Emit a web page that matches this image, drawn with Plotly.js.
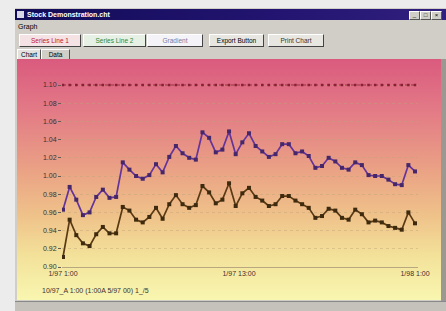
<!DOCTYPE html>
<html><head><meta charset="utf-8">
<script src="https://cdn.plot.ly/plotly-3.0.1.min.js"></script>
<style>
body{margin:0;width:446px;height:311px;background:#ececec;overflow:hidden;font-family:"Liberation Sans",Arial,sans-serif;}
#win{position:absolute;left:15px;top:8px;width:431px;height:303px;background:#d0cec6;}
#title{position:absolute;left:15px;top:9px;width:431px;height:11px;background:linear-gradient(90deg,#120c58,#221470 60%,#32207e);color:#fff;font-size:7px;font-weight:bold;line-height:11px;text-indent:12px;}
#ico{position:absolute;left:2px;top:2px;width:7px;height:7px;background:#d8d8e8;}
.wb{position:absolute;top:11px;width:9px;height:7px;background:#d0cec6;border:1px solid #fff;border-right-color:#555;border-bottom-color:#555;font-size:6px;line-height:7px;text-align:center;color:#000;}
#menu{position:absolute;left:18px;top:23px;font-size:7px;color:#000;}
.btn{position:absolute;top:34px;height:11px;background:#e8e6e0;border:1px solid #fff;border-right-color:#444;border-bottom-color:#444;font-size:6.5px;line-height:11px;text-align:center;}
.tab{position:absolute;top:49px;height:9px;font-size:6.5px;line-height:9px;text-align:center;background:#d0cec6;border:1px solid #fff;border-bottom:none;border-right-color:#555;}
#panel{position:absolute;left:17px;top:59px;width:424px;height:241px;background:linear-gradient(180deg,#da5a7e 0%,#e27886 20%,#eaa085 45%,#efc28a 65%,#f3e29a 82%,#f8f6b0 100%);}
#edge{position:absolute;left:441px;top:59px;width:5px;height:244px;background:#9a9890;}
#status{position:absolute;left:15px;top:301px;width:431px;height:10px;background:#c4c2ba;border-top:1px solid #888;}
#chart{position:absolute;left:17px;top:59px;width:424px;height:241px;}
</style></head>
<body>
<div id="win"></div>
<div id="title"><div id="ico"></div>Stock Demonstration.cht</div>
<div class="wb" style="left:409px">_</div>
<div class="wb" style="left:420px">□</div>
<div class="wb" style="left:431px">×</div>
<div id="menu">Graph</div>
<div class="btn" style="left:19px;width:60px;color:#c02030;background:#f4e2e4">Series Line 1</div>
<div class="btn" style="left:83px;width:61px;color:#2a8a3a;background:#e6f0e4">Series Line 2</div>
<div class="btn" style="left:147px;width:54px;color:#7a7aa0;background:#f4f4f8">Gradient</div>
<div class="btn" style="left:209px;width:53px;color:#000">Export Button</div>
<div class="btn" style="left:268px;width:54px;color:#333">Print Chart</div>
<div class="tab" style="left:17px;width:22px;background:#e4e2dc">Chart</div>
<div class="tab" style="left:41px;width:27px">Data</div>
<div id="panel"></div>
<div id="edge"></div>
<div id="status"></div>
<div id="chart"></div>
<script>
// Series values
const seriesLine1 = [0.963,0.988,0.974,0.957,0.960,0.977,0.985,0.976,0.977,1.015,
 1.007,1.000,0.997,1.001,1.013,1.004,1.021,1.033,1.025,1.020,
 1.018,1.048,1.042,1.026,1.029,1.049,1.024,1.037,1.047,1.033,
 1.027,1.021,1.024,1.035,1.035,1.025,1.027,1.022,1.009,1.011,
 1.020,1.016,1.009,1.007,1.015,1.012,1.001,1.000,1.000,0.996,
 0.991,0.990,1.012,1.005];
const seriesLine2 = [0.911,0.952,0.935,0.926,0.923,0.936,0.944,0.937,0.937,0.966,
 0.962,0.952,0.949,0.955,0.965,0.953,0.969,0.979,0.969,0.965,
 0.968,0.989,0.982,0.970,0.974,0.992,0.967,0.981,0.987,0.977,
 0.973,0.967,0.969,0.978,0.978,0.973,0.969,0.965,0.954,0.956,
 0.964,0.962,0.954,0.952,0.963,0.958,0.949,0.951,0.949,0.945,
 0.943,0.941,0.960,0.948];
const limitLevel = 1.10;
const yTicks = [0.90,0.92,0.94,0.96,0.98,1.00,1.02,1.04,1.06,1.08,1.10];
const xTickPositions = [0, 26.5, 53];
const xTickLabels = ["1/97 1:00", "1/97 13:00", "1/98 1:00"];
const footnote = "10/97_A 1:00 (1:00A 5/97 00) 1_/5";

const xs = seriesLine1.map((_, i) => i);
const limitSeries = xs.map(() => limitLevel);

const traces = [
 {x: xs, y: limitSeries, mode: 'lines+markers', line: {color: '#9a2a40', width: 1.2, dash: 'dot'},
  marker: {color: '#8a2038', size: 2.5, symbol: 'square'}, hoverinfo: 'skip'},
 {x: xs, y: seriesLine1, mode: 'lines+markers', line: {color: '#64349a', width: 1.7},
  marker: {color: '#46286a', size: 4, symbol: 'square'}},
 {x: xs, y: seriesLine2, mode: 'lines+markers', line: {color: '#5a3a14', width: 1.7},
  marker: {color: '#3e2a0e', size: 4, symbol: 'square'}}
];

const layout = {
 width: 424, height: 241,
 margin: {l: 45, r: 23, t: 11, b: 33},
 paper_bgcolor: 'rgba(0,0,0,0)', plot_bgcolor: 'rgba(0,0,0,0)',
 showlegend: false,
 font: {family: '"Liberation Sans", Arial, sans-serif', size: 7, color: '#3a3030'},
 xaxis: {range: [-0.15, 53.45], tickvals: xTickPositions, ticktext: xTickLabels,
  showgrid: false, zeroline: false, showline: true, linecolor: '#b8a880', ticks: '',
  tickfont: {size: 7, color: '#3a3030'}},
 yaxis: {range: [0.90, 1.1165], tickvals: yTicks, tickformat: '.2f',
  showgrid: true, gridcolor: 'rgba(190,165,120,0.45)', griddash: 'dot', gridwidth: 1,
  zeroline: false, showline: false, ticks: 'outside', ticklen: 3, tickcolor: '#6a5a50',
  tickfont: {size: 7, color: '#3a3030'}},
 annotations: [{xref: 'paper', yref: 'paper', x: -0.062, y: -0.122, xanchor: 'left', yanchor: 'middle',
  text: footnote, showarrow: false, font: {size: 7, color: '#3a3030'}}]
};
Plotly.newPlot('chart', traces, layout, {displayModeBar: false, staticPlot: true});
</script>
</body></html>
